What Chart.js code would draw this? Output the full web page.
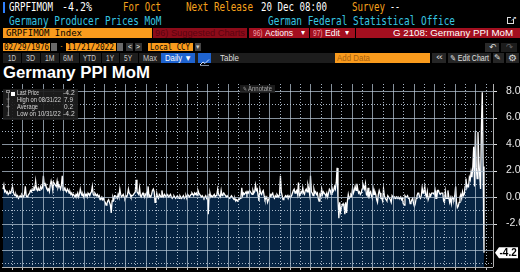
<!DOCTYPE html>
<html><head><meta charset="utf-8">
<script src="https://cdn.jsdelivr.net/npm/chart.js@4"></script>
<style>
html,body{margin:0;padding:0;background:#000;width:520px;height:272px;overflow:hidden;position:relative}
.b{position:absolute}
</style></head>
<body>
<canvas id="c" width="520" height="187" style="position:absolute;left:0;top:84px;width:520px;height:187px"></canvas>
<script>
// ---- data (monthly, Feb 1976 – Oct 2022, % MoM) ----
const startYear = 1976, startMonth = 2;
const ppi1970s = [
 0.6,0.9,0.4,0.5,0.3,0.4,0.2,0.3,0.4,0.3,0.5,
 0.8,0.4,0.2,0.1,0.2,0.0,0.1,-0.1,0.0,0.1,0.0,0.2,
 0.1,0.0,0.2,0.8,0.1,0.0,0.1,0.2,0.3,0.5,0.4,0.6,
 0.5,0.7,0.6,1.2,0.6,0.5,0.7,0.5,0.6,0.8,0.6,0.7];
const ppi1980s = [
 1.6,0.9,1.0,0.8,0.7,0.5,0.6,0.4,0.9,1.2,0.9,0.5,
 1.1,1.0,0.9,0.8,1.2,0.7,0.9,0.8,0.6,0.9,1.6,0.5,
 0.6,0.7,0.5,0.4,0.6,0.5,0.3,0.4,0.2,0.3,0.1,0.2,
 0.1,0.0,0.2,0.1,0.3,0.0,0.2,0.6,0.3,0.1,0.2,0.0,
 0.3,0.1,0.2,0.0,0.3,0.2,0.1,0.3,0.4,0.8,0.2,0.1,
 0.3,0.2,0.1,0.2,0.0,0.1,-0.2,-0.1,0.0,-0.2,-0.1,-0.3,
 -0.4,-0.6,-0.5,-0.3,-0.2,-0.4,-0.6,-1.2,-0.3,0.0,-0.2,0.1,
 0.1,0.0,-0.1,0.2,0.0,0.6,0.2,0.0,0.1,0.2,0.0,-0.1,
 0.1,0.0,0.2,0.6,0.3,0.2,0.0,0.1,0.1,0.2,0.3,0.4,
 1.3,0.4,0.3,0.2,0.7,0.1,0.0,0.2,0.3,0.1,0.0,0.2];
const ppi1990s = [
 0.3,0.1,0.8,0.0,0.1,0.0,0.2,0.5,0.6,0.4,-0.4,-0.2,
 0.3,0.0,-0.1,0.2,0.1,0.0,0.5,0.1,0.0,0.2,0.1,0.0,
 0.2,0.1,0.0,0.1,0.2,0.0,-0.1,0.0,0.1,0.0,-0.1,0.0,
 0.1,0.0,-0.1,0.1,0.0,-0.1,0.0,0.1,-0.1,0.0,0.1,-0.1,
 0.2,0.1,0.0,0.1,0.2,0.3,0.2,0.1,0.3,0.2,0.3,0.1,
 0.5,0.3,0.2,0.1,0.0,0.1,0.0,-0.1,0.0,0.1,-0.1,0.0,
 -1.3,0.2,0.3,0.0,0.1,0.0,0.1,0.2,0.0,0.1,0.2,0.6,
 0.2,0.1,0.0,0.5,0.1,0.2,0.3,0.2,0.1,0.0,0.1,0.0,
 0.0,-0.1,0.0,0.1,0.0,-0.1,-0.2,-0.1,-0.3,-0.2,-0.3,-0.2,
 -0.2,-0.1,0.0,0.7,0.1,0.3,0.2,0.3,0.4,0.2,0.4,0.3];
const ppi2000s = [
 0.5,0.4,0.3,0.2,0.5,0.3,0.4,0.9,0.5,0.6,0.1,-0.3,
 0.6,0.3,0.2,0.4,0.5,0.1,-0.2,-0.1,0.0,-0.4,-0.2,-0.1,
 0.2,0.1,0.2,0.3,0.0,-0.1,0.1,0.0,0.2,0.1,0.0,0.2,
 1.6,0.4,0.1,-0.2,-0.1,0.0,0.1,0.0,0.1,-0.1,0.1,0.0,
 0.0,0.1,0.3,0.5,0.6,0.3,0.4,0.5,0.2,1.1,0.1,0.2,
 0.4,0.3,0.7,0.3,0.2,0.5,0.6,0.4,0.9,0.6,0.2,1.6,
 0.4,0.3,0.1,0.6,0.3,0.4,0.2,0.3,-0.1,-0.3,0.2,0.1,
 0.6,0.2,0.4,0.3,0.2,0.1,0.3,0.0,0.3,0.6,0.5,0.2,
 0.7,0.4,0.5,0.8,0.6,1.1,2.2,-0.2,-1.6,-0.4,-1.1,-0.8,
 -0.6,-0.5,-0.7,-1.3,-0.4,-1.2,-0.3,0.2,-0.1,0.0,0.2,0.1];
const ppi2010s = [
 0.7,0.3,0.5,0.8,0.5,1.0,0.6,0.3,0.4,0.2,0.3,0.6,
 1.0,0.8,0.6,1.0,0.2,0.1,0.7,-0.1,0.3,0.4,0.1,-0.1,
 0.6,0.2,0.4,0.2,-0.2,-0.4,0.2,0.5,0.3,-0.1,-0.1,-0.3,
 0.6,0.1,-0.1,-0.2,-0.3,0.1,0.0,-0.1,-0.2,-0.4,0.1,0.0,
 -0.1,0.0,-0.1,0.0,-0.1,0.0,-0.1,-0.1,0.0,-0.2,-0.1,-0.5,
 -0.6,0.1,0.0,0.0,0.1,-0.1,-0.1,-0.5,-0.4,-0.2,-0.1,-0.5,
 -0.7,-0.5,-0.1,0.1,0.3,0.3,0.0,-0.1,0.1,0.7,0.3,0.4,
 0.8,0.2,0.0,0.4,-0.2,0.0,0.2,0.1,0.3,0.3,0.3,0.2,
 0.5,-0.1,-0.1,0.5,0.5,0.3,0.2,0.3,0.3,0.3,-0.3,-0.4,
 0.4,-0.1,-0.1,0.5,0.0,-0.4,-0.1,-0.5,0.0,-0.1,-0.2,0.1];
const ppi2020s = [
 0.8,-0.4,-0.8,-0.7,-0.4,0.0,0.2,-0.1,0.4,0.1,0.2,0.8,
 1.4,0.7,0.9,0.8,1.5,1.3,1.9,1.5,2.3,3.8,0.8,5.0,
 2.2,1.4,4.9,2.8,1.6,0.6,5.3,7.9,2.3,-4.2];
const yTickValues = [-5,-4,-3,-2,-1,0,1,2,3,4,5,6,7,8];
const yTickLabels = {8:'8.0',6:'6.0',4:'4.0',2:'2.0',0:'0.0','-2':'-2.0'};
const legendRows = [['Last Price','-4.2'],['High on 08/31/22','7.9'],['Average','0.2'],['Low on 10/31/22','-4.2']];

// ---- build series ----
const ppi = [].concat(ppi1970s, ppi1980s, ppi1990s, ppi2000s, ppi2010s, ppi2020s);
const points = ppi.map((v,i) => {
  const m = startMonth - 1 + i;
  return {x: startYear + Math.floor(m/12) + ((m%12)+1)/12, y: v};
});
const yearTicks = [];
for (let y = 1977; y <= 2023; y++) yearTicks.push(y);

// ---- UI helpers ----
const OR = '#f6a21c', ORB = '#f99b1d', CY = '#37c6e2', RED = '#a30f1f';
const MET = {mono:{f:"'DejaVu Sans Mono',monospace",a:0.928,d:0.236}, sans:{f:"'Liberation Sans',Arial,'DejaVu Sans',sans-serif",a:0.905,d:0.212}};
function B(x,y,w,h,bg,extra){const e=document.createElement('div');e.className='b';e.style.cssText+=`left:${x}px;top:${y}px;width:${w}px;height:${h}px;background:${bg};${extra||''}`;document.body.appendChild(e);return e;}
function T(s,x,base,w,size,color,fam,weight){
  const m=MET[fam||'mono'];
  const off=(size-(m.a+m.d)*size)/2+m.a*size;
  const e=document.createElement('span');
  e.textContent=s;
  e.style.cssText=`position:absolute;left:${x}px;top:${base-off}px;font:${weight||'normal'} ${size}px ${m.f};line-height:${size}px;color:${color};white-space:pre;transform-origin:0 0;`;
  document.body.appendChild(e);
  if(w){const r=e.getBoundingClientRect().width; if(r>0) e.style.transform=`scaleX(${w/r})`;}
  return e;
}

// Row 1
B(2.7,1.7,2.6,11,'#2f80ff');
T('GRPFIMOM',9.3,11.7,44,11.5,'#fff');
T('-4.2%',62,11.7,30,11.5,'#fff');
T('For Oct',123,11.7,38,11.5,OR);
T('Next Release',186,11.7,67,11.5,OR);
T('20 Dec 08:00',260.5,11.7,66,11.5,'#fff');
T('Survey',352,11.7,33,11.5,OR);
T('--',390,11.7,10,11.5,'#fff');
// Row 2
T('Germany Producer Prices MoM',9.3,25.5,152.5,11.5,CY);
T('German Federal Statistical Office',268,25.5,187,11.5,CY);
B(507,16.5,7,7,'transparent','border:1px solid #ddd;box-sizing:border-box');
B(511,15,6,4,'#000');
T('↗',510,20.5,7,7,'#ddd','sans');
// Row 3
B(3,28,149,9.5,ORB); T('GRPFIMOM Index',6,36.2,76,9.5,'#000');
B(153,28,94,9.5,'#8d0b19'); T('96) Suggested Charts',155,36.2,90,9.5,'#5a0410','sans');
B(248.5,28,60,9.5,RED); T('96)',252.5,36.2,9.5,9.5,'#f0a0aa','sans'); T('Actions',265,36.2,28,9.5,'#fff','sans'); T('▾',301,35.8,4,8,'#fff','sans');
B(310,28,44.5,9.5,RED); T('97)',313,36.2,9.5,9.5,'#f0a0aa','sans'); T('Edit',325,36.2,15,9.5,'#fff','sans'); T('▾',344.5,35.8,4,8,'#fff','sans');
B(356,28,164,9.5,RED); T('G 2108: Germany PPI MoM',393,36.2,120,9.5,'#fff','sans');
// Row 4
B(3,42.5,47,8.5,ORB); T('02/29/1976',4,50,45,8.5,'#000');
B(51,43,6,7.5,'#6a6a6a');
T('-',59.5,49.5,3,8.5,OR);
B(66,42.5,50,8.5,ORB); T('11/21/2022',67,50,47,8.5,'#000');
B(117,43,6,7.5,'#6a6a6a');
B(126,43,7,7.5,'#333'); T('<',127.5,49.5,4,7.5,'#fff','sans');
B(134.5,43,7,7.5,'#333'); T('>',136,49.5,4,7.5,'#fff','sans');
B(148,42.5,45,8.5,ORB); T('Local CCY',150,50,40,8.5,'#000');
B(195,43,6,7.5,'#444'); T('▾',196.3,49,3.5,7,'#ccc','sans');
B(485,43,14,8.5,'#2a2a2a'); T('↶',488.5,50.2,7,9,'#ddd','sans');
B(501,43,16,8.5,'#1c1c1c'); T('↷',505.5,50.2,7,9,'#666','sans');
// Row 5
B(3,53,332,10,'#1d1d1d');
[21,40,59,79,101,119,138].forEach(x=>B(x,53,1,10,'#000'));
[['1D',8,8],['3D',26,9],['1M',44.5,9.5],['6M',63,10],['YTD',82.5,13],['1Y',106,8],['5Y',124,8],['Max',143,14]].forEach(b=>T(b[0],b[1],61,b[2],8.5,'#c8c8c8','sans'));
B(161,53,34,10,'#1f63cf'); T('Daily ▼',165,61,27,8.5,'#fff','sans');
const ic=B(197.5,53,13,10,'#1f63cf');
ic.innerHTML='<svg width="13" height="10"><polyline points="2,8 5,5 7,6.5 11,2.5" fill="none" stroke="#cfe0ff" stroke-width="1"/><line x1="2" y1="8.5" x2="11" y2="8.5" stroke="#cfe0ff" stroke-width="0.6"/></svg>';
T('Table',220,61,19,8.5,'#dcdcdc','sans');
B(335,53,95,10,ORB); T('Add Data',337,61,33,8.5,'#a7600e','sans');
B(432,53,14,10,'#262626'); T('«',435.5,61,7,9,'#ddd','sans');
B(447.5,53,43,10,'#262626'); T('✎ Edit Chart',449.5,61,39,8.5,'#e0e0e0','sans');
B(492.5,53,11,10,'#262626'); T('✎',494,61,7,8,'#ddd','sans');
B(505.5,53,13,10,'#262626'); T('⚙',507.5,61.5,9,9,'#ddd','sans');
// Title
T('Germany PPI MoM',3,79,147,16,'#fff','sans','bold');
</script>
<script>
const GRID_SOLID='rgba(185,200,215,0.72)', GRID_DOT='rgba(185,200,215,0.9)';
function drawGridOver(c){
  const ctx=c.ctx, a=c.chartArea, xs=c.scales.x, ys=c.scales.y;
  ctx.save();
  ctx.lineWidth=1;
  for(let i=0;i<yearTicks.length;i++){
    const v=yearTicks[i];
    const px=Math.round(xs.getPixelForValue(v))+0.5;
    if(!(px>=a.left&&px<=a.right)) continue;
    const odd=(v%2)===1;
    ctx.strokeStyle=odd?GRID_DOT:GRID_SOLID;
    ctx.setLineDash(odd?[1,2]:[]);
    ctx.beginPath(); ctx.moveTo(px,a.top); ctx.lineTo(px,a.bottom); ctx.stroke();
    ctx.setLineDash([]); ctx.strokeStyle='#c0c0c0';
    ctx.beginPath(); ctx.moveTo(px,a.bottom); ctx.lineTo(px,a.bottom+3); ctx.stroke();
  }
  for(let i=0;i<yTickValues.length;i++){
    const v=yTickValues[i];
    const py=Math.round(ys.getPixelForValue(v))+0.5;
    const odd=Math.abs(v%2)===1;
    ctx.strokeStyle=odd?GRID_DOT:GRID_SOLID;
    ctx.setLineDash(odd?[1,2]:[]);
    ctx.beginPath(); ctx.moveTo(a.left,py); ctx.lineTo(a.right,py); ctx.stroke();
    if(yTickLabels[v]!==undefined){
      ctx.setLineDash([]); ctx.strokeStyle='#e0e0e0';
      ctx.beginPath(); ctx.moveTo(a.right,py); ctx.lineTo(a.right+4,py); ctx.stroke();
    }
  }
  ctx.setLineDash([]);
  ctx.strokeStyle='#b0b0b0';
  ctx.beginPath(); ctx.moveTo(a.left,a.bottom+0.5); ctx.lineTo(a.right,a.bottom+0.5); ctx.stroke();
  ctx.beginPath(); ctx.moveTo(a.right+0.5,a.top); ctx.lineTo(a.right+0.5,a.bottom); ctx.stroke();
  ctx.restore();
}
const overlay = {
  id:'overlay',
  afterDraw(c){
    drawGridOver(c);
    const ys=c.scales.y, ca=c.chartArea, ctx=c.ctx;
    const v=ppi[ppi.length-1];
    const y=ys.getPixelForValue(v);
    const x0=ca.right+2, x1=x0+4, x2=518;
    ctx.save();
    ctx.fillStyle='#fff';
    ctx.beginPath();ctx.moveTo(x0,y);ctx.lineTo(x1,y-5.5);ctx.lineTo(x2,y-5.5);ctx.lineTo(x2,y+5.5);ctx.lineTo(x1,y+5.5);ctx.closePath();ctx.fill();
    ctx.fillStyle='#000';ctx.font='bold 10px "Liberation Sans", Arial';ctx.textBaseline='middle';ctx.textAlign='left';
    ctx.fillText(v.toFixed(1),x1+0.5,y+0.5);
    ctx.restore();
  }
};
try {
new Chart(document.getElementById('c'),{
  type:'line',
  data:{datasets:[{data:points,borderColor:'#ffffff',borderWidth:1.3,pointRadius:0,fill:'start',backgroundColor:'#072443',tension:0}]},
  options:{
    animation:false,responsive:false,maintainAspectRatio:false,
    layout:{padding:{left:2,right:0,top:0,bottom:0}},
    plugins:{legend:{display:false},tooltip:{enabled:false}},
    scales:{
      x:{type:'linear',min:1976.0697,max:2023.707,
        afterBuildTicks:s=>{s.ticks=yearTicks.map(v=>({value:v}));},
        afterFit:s=>{s.height=4;s.paddingLeft=0;s.paddingRight=0;},
        ticks:{display:false},
        grid:{display:false},
        border:{display:false}
      },
      y:{position:'right',min:-5.28,max:8.53,
        afterBuildTicks:s=>{s.ticks=yTickValues.map(v=>({value:v}));},
        afterFit:s=>{s.width=27;s.paddingTop=0;s.paddingBottom=0;},
        ticks:{color:'#e8e8e8',padding:5,autoSkip:false,font:{family:"'Liberation Sans', Arial",size:10.5},callback:v=>yTickLabels[v]!==undefined?yTickLabels[v]:''},
        grid:{display:false},
        border:{display:false}
      }
    }
  },
  plugins:[overlay]
});
} catch(e) { T('ERR '+e.message,10,150,0,10,'#f00','sans'); }
</script>
<script>
// legend box + annotate overlay
B(3,88.5,75,31,'rgba(28,28,28,0.92)');
B(7.5,92,0.8,24,'#777');
B(5.8,89.5,4,3,'transparent','border:0.8px solid #888;box-sizing:border-box');
B(11,92,4.3,4.3,'#fff');
T('⊤',5.8,102.6,4,6,'#aaa','sans');
T('+',5.8,109.2,4,6.5,'#aaa','sans');
T('⊥',5.8,116,4,6,'#aaa','sans');
const lw=[22,44,21,43.7], vw=[11.7,9,9,11.7], vx=[63.3,64,64,63.3];
legendRows.forEach((r,i)=>{
  const base=96+i*6.67;
  T(r[0],17.3,base,lw[i],6.5,'#d6d6d6','sans');
  T(r[1],vx[i],base,vw[i],6.5,'#d6d6d6','sans');
});
B(240,85,35,8,'rgba(30,30,30,0.9)');
T('✎',242.5,91.5,4,6,'#999','sans');
T('Annotate',248,91.5,24,6.5,'#a8a8a8','sans');
</script>
</body></html>
